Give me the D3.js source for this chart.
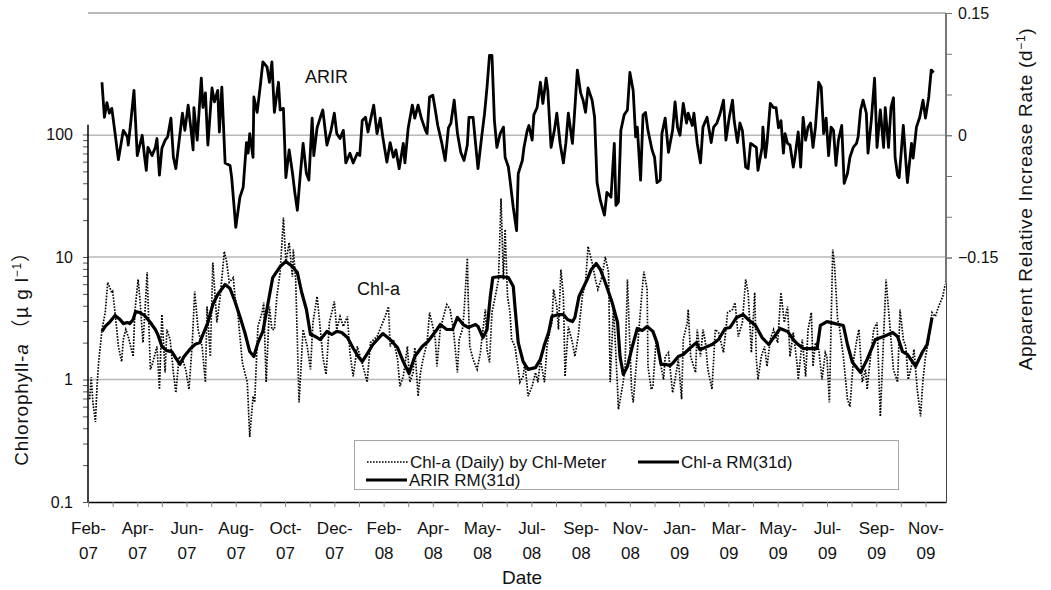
<!DOCTYPE html>
<html>
<head>
<meta charset="utf-8">
<script src="https://cdn.jsdelivr.net/npm/d3@7"></script>
<style>
  html, body { margin: 0; padding: 0; background: #fff; }
  svg { display: block; }
  text { font-family: "Liberation Sans", Arial, sans-serif; fill: #111; }
</style>
</head>
<body>
<svg id="chart" width="1051" height="590"></svg>
<script>
// Date axis labels (one every 60 days of record, minor tick every 30 days)
const dateLabels = ["Feb-07","Apr-07","Jun-07","Aug-07","Oct-07","Dec-07","Feb-08","Apr-08","May-08",
                    "Jul-08","Sep-08","Nov-08","Jan-09","Mar-09","May-09","Jul-09","Sep-09","Nov-09"];
const labelEveryDays = 60;
const tickEveryDays = 30;
const recordDays = 1045;

// Left (log) axis: chlorophyll-a, µg/l
const chlMajorTicks = [0.1, 1, 10, 100];
const chlAxisMax = 120;
// Right axis: apparent relative increase rate, 1/d
const arirLabelTicks = [0.15, 0, -0.15];
const arirMinorTicks = [0.15, 0.1, 0.05, 0, -0.05, -0.1, -0.15];
const arirAxisMin = -0.182;

// Chl-a daily values from the Chl-meter: [day of record, µg/l]
const chlDaily = [[2,0.69],[4,1.04],[6,0.65],[9,0.45],[11,0.88],[13,1.38],[17,2.56],[21,3.52],[24,6.2],[29,5.13],[30,5.23],[33,3.52],[37,1.86],[41,1.40],[43,2.12],[46,2.56],[49,2.24],[52,1.86],[55,1.54],[57,3.52],[61,6.55],[63,4.76],[67,2.00],[69,3.27],[72,7.5],[76,1.21],[79,1.38],[84,1.86],[87,0.83],[90,3.39],[94,1.14],[96,2.56],[100,2.12],[104,1.14],[107,0.78],[111,1.54],[115,1.46],[119,1.21],[123,0.83],[127,2.00],[130,5.23],[134,2.56],[139,1.86],[143,0.95],[145,3.94],[149,1.54],[152,9.0],[157,2.92],[161,4.76],[166,11.1],[169,9.0],[172,6.2],[177,6.8],[179,4.76],[182,3.73],[188,1.38],[190,1.21],[194,0.95],[197,0.34],[201,0.73],[203,0.65],[207,2.71],[212,3.52],[214,4.25],[217,0.95],[221,3.94],[224,2.56],[227,2.56],[230,4.76],[234,7.5],[238,21.0],[241,9.0],[245,13.1],[249,6.9],[250,11.5],[253,6.55],[257,0.65],[262,2.56],[267,1.86],[271,1.21],[274,2.92],[279,4.76],[283,2.56],[286,1.54],[290,1.10],[294,2.92],[300,4.33],[303,2.56],[307,3.27],[311,2.71],[316,3.27],[319,1.66],[323,1.06],[328,1.86],[335,1.28],[340,0.95],[344,2.00],[352,2.24],[362,3.27],[366,3.94],[368,1.86],[372,2.12],[377,1.46],[380,0.88],[384,1.06],[389,1.86],[392,0.95],[396,1.14],[398,1.82],[402,0.73],[405,1.14],[408,1.46],[413,2.00],[416,3.52],[420,2.71],[423,2.12],[425,1.28],[429,2.56],[433,3.27],[437,4.09],[441,3.73],[445,2.56],[450,1.14],[452,2.12],[456,2.56],[458,3.52],[462,9.8],[463,4.76],[465,1.86],[469,1.46],[474,1.21],[478,1.66],[480,2.24],[484,3.73],[486,1.76],[489,1.38],[492,3.52],[496,4.76],[500,6.55],[503,30.0],[506,6.55],[508,16.8],[511,4.76],[514,3.52],[516,2.12],[520,1.86],[524,1.21],[526,0.95],[530,1.06],[532,1.38],[536,0.73],[541,0.88],[545,1.14],[548,0.95],[551,1.46],[556,0.95],[559,1.86],[562,2.42],[565,2.92],[567,5.43],[571,3.94],[573,2.56],[576,7.9],[579,4.76],[581,1.06],[585,2.71],[590,2.00],[593,1.54],[597,2.24],[602,4.76],[606,6.2],[609,12.2],[614,9.0],[618,6.55],[621,5.43],[626,6.9],[630,10.0],[634,7.5],[636,0.95],[640,3.94],[645,0.83],[646,0.57],[651,0.88],[654,1.21],[657,6.55],[662,0.83],[664,0.65],[669,1.66],[671,2.56],[675,5.43],[677,7.6],[681,5.43],[682,1.28],[686,0.83],[688,0.88],[692,2.12],[697,1.38],[701,1.0],[703,1.54],[707,1.66],[712,0.78],[715,1.0],[719,1.46],[723,0.69],[725,2.12],[730,2.92],[731,3.73],[734,1.54],[740,1.14],[742,2.56],[746,1.54],[749,2.56],[752,2.00],[755,1.21],[760,0.83],[764,2.56],[768,2.42],[774,1.66],[779,3.52],[785,3.73],[788,4.25],[792,2.24],[797,2.92],[801,6.55],[804,5.13],[808,1.66],[812,5.13],[814,1.46],[816,1.0],[820,1.54],[824,1.86],[827,1.28],[831,2.12],[835,2.56],[840,2.00],[844,5.13],[848,2.92],[852,3.94],[855,1.54],[859,2.42],[864,1.28],[865,1.0],[870,2.12],[874,1.06],[877,2.56],[881,3.52],[883,1.28],[886,2.00],[890,1.76],[894,1.0],[898,1.66],[900,1.54],[903,0.65],[907,11.5],[909,9.0],[913,3.09],[915,2.71],[920,1.54],[925,0.69],[928,0.60],[932,1.38],[937,2.24],[939,2.56],[943,0.95],[947,1.21],[949,0.83],[953,1.54],[957,2.56],[961,2.92],[965,0.50],[969,2.24],[972,6.55],[975,3.73],[977,2.56],[981,1.21],[986,0.95],[989,3.73],[993,2.12],[996,1.86],[999,1.0],[1004,1.38],[1006,1.76],[1010,0.83],[1014,0.50],[1017,1.0],[1020,1.54],[1024,2.12],[1028,3.52],[1032,3.27],[1036,3.94],[1041,4.76],[1044,5.97]];

// Chl-a 31-day running mean: [day of record, µg/l]
const chlRM31 = [[17,2.47],[21,2.71],[27,2.97],[33,3.33],[39,3.09],[43,2.86],[48,2.92],[51,2.86],[55,3.09],[58,3.59],[63,3.52],[69,3.33],[76,2.92],[82,2.56],[85,2.33],[90,1.86],[96,1.72],[102,1.69],[108,1.46],[112,1.33],[117,1.54],[124,1.76],[130,1.93],[136,2.00],[141,2.42],[146,2.92],[152,4.09],[158,4.94],[167,5.97],[173,5.53],[179,4.33],[185,3.27],[191,2.42],[197,1.69],[202,1.54],[207,2.00],[213,2.47],[219,4.09],[225,6.80],[234,8.36],[241,9.19],[249,8.36],[255,7.47],[260,5.23],[266,3.73],[271,2.33],[277,2.24],[283,2.12],[291,2.47],[297,2.33],[303,2.47],[309,2.42],[316,2.20],[323,1.80],[330,1.51],[334,1.40],[341,1.66],[347,1.93],[359,2.37],[368,2.12],[377,1.82],[384,1.40],[391,1.12],[398,1.54],[407,1.86],[414,2.04],[425,2.56],[429,2.81],[437,2.56],[444,2.56],[450,3.21],[457,2.81],[463,2.66],[472,2.81],[475,2.71],[481,2.20],[486,2.56],[490,4.76],[493,6.80],[502,6.93],[512,6.80],[518,5.74],[520,3.94],[524,2.00],[530,1.40],[536,1.21],[545,1.25],[551,1.46],[556,1.93],[561,2.42],[565,3.27],[573,3.39],[579,3.39],[584,3.09],[590,2.97],[593,3.21],[598,4.76],[608,6.55],[613,7.91],[619,8.85],[624,7.91],[630,6.19],[638,4.33],[645,2.92],[648,1.54],[652,1.10],[657,1.28],[663,1.86],[669,2.61],[675,2.51],[681,2.71],[688,2.47],[693,2.00],[698,1.33],[703,1.33],[709,1.30],[713,1.38],[719,1.54],[725,1.60],[733,1.80],[741,2.00],[745,1.76],[751,1.82],[760,1.93],[768,2.12],[776,2.61],[782,2.66],[790,3.21],[798,3.39],[804,3.09],[813,2.76],[821,2.20],[829,1.93],[835,2.20],[843,2.61],[852,2.47],[859,2.12],[865,1.93],[871,1.79],[880,1.79],[888,1.79],[892,2.76],[900,2.97],[910,2.86],[920,2.76],[925,1.93],[931,1.38],[941,1.14],[949,1.46],[959,2.12],[969,2.24],[980,2.42],[986,2.24],[992,1.69],[998,1.60],[1008,1.28],[1016,1.66],[1022,1.93],[1028,3.21]];

// Apparent relative increase rate, 31-day running mean: [day of record, 1/d]
const arirRM31 = [[17,0.065],[20,0.022],[23,0.040],[26,0.027],[29,0.033],[33,0.002],[37,-0.030],[43,0.006],[48,-0.002],[49,-0.012],[52,0.015],[56,0.055],[60,-0.025],[66,0],[69,-0.027],[71,-0.043],[73,-0.015],[78,-0.025],[82,-0.015],[84,-0.004],[87,-0.049],[90,-0.016],[94,-0.006],[97,-0.002],[101,0.021],[104,-0.027],[107,-0.041],[115,0.027],[118,0.006],[122,0.037],[126,0.002],[128,-0.018],[129,0.034],[133,-0.006],[134,0.009],[138,0.070],[140,0.034],[143,0.052],[146,-0.012],[151,0.058],[154,0.041],[158,0.055],[160,0.004],[163,0.059],[167,-0.034],[173,-0.037],[175,-0.052],[180,-0.113],[185,-0.076],[189,-0.064],[193,-0.009],[195,-0.022],[197,0.002],[201,-0.027],[202,0.047],[206,0.028],[210,0.062],[213,0.090],[218,0.084],[221,0.065],[224,0.090],[227,0.028],[232,0.065],[234,0.031],[238,0.033],[241,-0.052],[245,-0.018],[249,-0.046],[252,-0.071],[255,-0.092],[258,-0.055],[262,-0.010],[266,-0.047],[269,-0.055],[273,0.021],[275,-0.025],[279,0.009],[283,0.022],[286,0.031],[291,-0.012],[296,0.006],[300,0.027],[303,0.002],[307,-0.004],[311,0.006],[314,-0.034],[319,-0.022],[323,-0.034],[328,-0.022],[331,-0.025],[334,0.018],[338,0.022],[341,0.004],[346,0.028],[348,0.037],[352,0.002],[356,0.021],[359,-0.002],[364,-0.033],[368,-0.009],[372,-0.027],[375,-0.018],[379,-0.041],[384,-0.010],[386,-0.034],[390,0.009],[395,0.037],[398,0.021],[402,0.037],[406,0.021],[411,0.006],[413,0.002],[416,0.047],[420,0.049],[423,0.031],[426,0.012],[431,-0.010],[435,-0.031],[439,0.009],[442,0.015],[446,0.043],[450,0.002],[454,-0.021],[458,-0.031],[462,-0.012],[464,0.022],[469,0.022],[472,-0.010],[475,-0.041],[479,-0.006],[483,0.027],[486,0.059],[489,0.098],[492,0.098],[495,0.018],[498,-0.015],[502,0.002],[506,0.010],[508,-0.027],[512,-0.039],[514,-0.055],[518,-0.089],[522,-0.117],[524,-0.047],[529,-0.031],[531,-0.015],[535,0.006],[537,0.012],[541,-0.006],[543,0.025],[547,0.034],[551,0.065],[554,0.039],[558,0.070],[560,0.055],[564,-0.015],[568,0.006],[571,0.027],[575,-0.010],[579,-0.034],[582,-0.010],[585,0.027],[590,-0.010],[592,0.018],[596,0.080],[600,0.052],[603,0.043],[606,0.028],[609,0.058],[614,0.043],[617,0.022],[620,-0.058],[624,-0.080],[629,-0.098],[632,-0.070],[637,-0.076],[641,-0.010],[643,-0.086],[646,-0.082],[649,0.006],[653,0.025],[657,0.031],[660,0.077],[664,0.055],[667,-0.002],[669,0.010],[673,-0.055],[676,0.025],[679,0.028],[682,0.006],[687,-0.018],[690,-0.027],[693,-0.058],[697,-0.055],[699,0.002],[703,0.021],[707,-0.021],[712,0.006],[715,0.041],[718,0.010],[721,0],[725,0.039],[729,0.015],[731,0.027],[736,0.012],[738,0.027],[742,-0.010],[746,-0.034],[749,0.010],[754,0.022],[759,-0.009],[762,0.010],[766,0.015],[770,0.027],[774,0.043],[777,-0.006],[781,0.022],[785,0.043],[787,0.018],[791,-0.009],[794,0.015],[797,0.006],[801,-0.039],[804,-0.041],[807,-0.010],[810,-0.012],[814,-0.015],[816,-0.043],[821,-0.015],[822,0.010],[825,-0.027],[827,-0.010],[831,0.039],[835,0.034],[838,0.034],[841,0.009],[844,0.018],[847,-0.022],[849,0.002],[852,-0.010],[855,-0.012],[859,-0.039],[861,-0.027],[865,0.004],[868,-0.039],[871,0.022],[874,-0.006],[877,0.010],[880,0.015],[883,-0.015],[886,0.010],[890,0.065],[893,0.059],[896,0.002],[899,0.021],[902,-0.025],[905,0.010],[908,0.006],[911,-0.037],[914,-0.006],[918,0.012],[921,-0.059],[925,-0.047],[928,-0.027],[932,-0.015],[936,-0.010],[938,-0.002],[941,0.031],[944,0.043],[948,0.027],[950,-0.022],[954,0.018],[958,0.070],[961,-0.015],[965,0.031],[969,-0.015],[971,0.034],[975,-0.015],[978,0.034],[981,0.046],[983,-0.027],[986,-0.049],[988,-0.052],[993,0.012],[996,-0.031],[998,-0.058],[1003,-0.010],[1005,-0.028],[1009,0.010],[1013,0.022],[1017,0.043],[1020,0.021],[1024,0.047],[1027,0.080],[1030,0.077]];

const svg = d3.select("#chart");
const plot = { left: 88, right: 946, top: 13, bottom: 502 };

const x = d3.scaleLinear().domain([0, recordDays]).range([plot.left, plot.right]);
const yChl = d3.scaleLog().domain([0.1, 1000]).range([plot.bottom, 12]);
const yArir = d3.scaleLinear().domain([-0.45, 0.15]).range([plot.bottom, plot.top]);

// Gridlines
const grid = svg.append("g");
const gridLevels = [
  { y: yArir(0.15), c: "#a0a0a0" },
  { y: yArir(0), c: "#b8b8b8" },
  { y: yChl(10), c: "#b8b8b8" },
  { y: yChl(1), c: "#b8b8b8" }
];
grid.selectAll("line").data(gridLevels).join("line")
  .attr("x1", plot.left).attr("x2", plot.right)
  .attr("y1", d => d.y).attr("y2", d => d.y)
  .attr("stroke", d => d.c).attr("stroke-width", 1.3);

// Right border of the plot area below the rate axis
svg.append("line")
  .attr("x1", plot.right + 0.5).attr("x2", plot.right + 0.5)
  .attr("y1", yChl(chlAxisMax)).attr("y2", plot.bottom)
  .attr("stroke", "#444").attr("stroke-width", 1);

// Series
const lineChl = d3.line().x(d => x(d[0])).y(d => yChl(d[1]));
const lineArir = d3.line().x(d => x(d[0])).y(d => yArir(d[1]));

svg.append("path").datum(chlDaily)
  .attr("d", lineChl).attr("fill", "none")
  .attr("stroke", "#000").attr("stroke-width", 1.7)
  .attr("stroke-dasharray", "1.6,1.4");

svg.append("path").datum(chlRM31)
  .attr("d", lineChl).attr("fill", "none")
  .attr("stroke", "#000").attr("stroke-width", 3.2)
  .attr("stroke-linejoin", "round");

svg.append("path").datum(arirRM31)
  .attr("d", lineArir).attr("fill", "none")
  .attr("stroke", "#000").attr("stroke-width", 2.8)
  .attr("stroke-linejoin", "round");

// Bottom (date) axis
const xTickValues = d3.range(0, dateLabels.length * labelEveryDays - labelEveryDays + 1, tickEveryDays);
const xAxis = svg.append("g")
  .attr("transform", `translate(0,${plot.bottom})`)
  .call(d3.axisBottom(x).tickValues(xTickValues).tickSize(5).tickSizeOuter(0)
        .tickFormat(d => d % labelEveryDays === 0 ? dateLabels[d / labelEveryDays] : ""));
xAxis.select(".domain").attr("stroke", "#000").attr("stroke-width", 1.5);
xAxis.selectAll(".tick line").attr("stroke", "#888");
xAxis.selectAll(".tick text").each(function() {
  const t = d3.select(this);
  const label = t.text();
  t.text(null).attr("font-size", 17).attr("font-family", "Liberation Sans, Arial, sans-serif")
    .attr("fill", "#111").attr("y", 0).attr("dy", null);
  if (!label) return;
  const parts = label.split("-");
  t.append("tspan").attr("x", 0).attr("y", 32).text(parts[0] + "-");
  t.append("tspan").attr("x", 0).attr("y", 57).text(parts[1]);
});

// Left (log) axis
const leftAxis = svg.append("g").attr("transform", `translate(${plot.left},0)`);
const chlMinorTicks = [];
[0.1, 1, 10].forEach(base => { for (let k = 2; k <= 9; k++) chlMinorTicks.push(+(base * k).toPrecision(3)); });
leftAxis.append("g")
  .call(d3.axisLeft(yChl).tickValues(chlMinorTicks).tickSize(5).tickFormat(""))
  .call(g => g.select(".domain").remove());
leftAxis.append("g")
  .call(d3.axisLeft(yChl).tickValues(chlMajorTicks).tickSize(5).tickPadding(10)
        .tickFormat(d => d3.format("~g")(d)))
  .call(g => g.select(".domain").remove());
leftAxis.append("line")
  .attr("x1", 0).attr("x2", 0)
  .attr("y1", yChl(chlAxisMax)).attr("y2", plot.bottom)
  .attr("stroke", "#000").attr("stroke-width", 1.5);
leftAxis.selectAll(".tick line").attr("stroke", "#555");
leftAxis.selectAll(".tick text").attr("font-size", 16)
  .attr("font-family", "Liberation Sans, Arial, sans-serif").attr("fill", "#111");

// Right (rate) axis
const rightAxis = svg.append("g").attr("transform", `translate(${plot.right},0)`);
rightAxis.append("g")
  .call(d3.axisRight(yArir).tickValues(arirMinorTicks).tickSize(6).tickFormat(""))
  .call(g => g.select(".domain").remove());
rightAxis.append("g")
  .call(d3.axisRight(yArir).tickValues(arirLabelTicks).tickSize(6).tickPadding(6)
        .tickFormat(d => d3.format("~g")(d)))
  .call(g => g.select(".domain").remove());
rightAxis.append("line")
  .attr("x1", 0).attr("x2", 0)
  .attr("y1", yArir(0.15)).attr("y2", yArir(arirAxisMin))
  .attr("stroke", "#777").attr("stroke-width", 2);
rightAxis.selectAll(".tick line").attr("stroke", "#777");
rightAxis.selectAll(".tick text").attr("font-size", 16)
  .attr("font-family", "Liberation Sans, Arial, sans-serif").attr("fill", "#111");

// Axis titles
svg.append("text")
  .attr("x", 522).attr("y", 584)
  .attr("text-anchor", "middle").attr("font-size", 19)
  .text("Date");

const leftTitle = svg.append("text")
  .attr("transform", "translate(28,354) rotate(-90)")
  .attr("text-anchor", "middle").attr("font-size", 19).attr("letter-spacing", 0.8);
leftTitle.append("tspan").text("Chlorophyll-");
leftTitle.append("tspan").attr("font-style", "italic").text("a");
leftTitle.append("tspan").attr("font-family", "Noto Sans CJK JP").text(" （μ");
leftTitle.append("tspan").text(" g l");
leftTitle.append("tspan").attr("font-size", 12).attr("dy", -7).text("−1");
leftTitle.append("tspan").attr("font-family", "Noto Sans CJK JP").attr("dy", 7).text("）");

const rightTitle = svg.append("text")
  .attr("transform", "translate(1032,199) rotate(-90)")
  .attr("text-anchor", "middle").attr("font-size", 19).attr("letter-spacing", 0.7);
rightTitle.append("tspan").text("Apparent Relative Increase Rate (d");
rightTitle.append("tspan").attr("font-size", 12).attr("dy", -7).text("−1");
rightTitle.append("tspan").attr("dy", 7).text(")");

// In-plot series labels
svg.append("text").attr("x", 305).attr("y", 83)
  .attr("font-family", "Lato, 'Open Sans', sans-serif").attr("font-size", 18).text("ARIR");
svg.append("text").attr("x", 357).attr("y", 295)
  .attr("font-family", "Lato, 'Open Sans', sans-serif").attr("font-size", 18).text("Chl-a");

// Legend
const legend = svg.append("g");
legend.append("rect")
  .attr("x", 354.5).attr("y", 440.5).attr("width", 544).attr("height", 49)
  .attr("fill", "#fff").attr("stroke", "#a6a6a6").attr("stroke-width", 1);
const legendItems = [
  { label: "Chl-a (Daily) by Chl-Meter", dash: "1.6,1.4", w: 1.7, x: 367, y: 462 },
  { label: "Chl-a RM(31d)", dash: null, w: 3.2, x: 638, y: 462 },
  { label: "ARIR RM(31d)", dash: null, w: 2.8, x: 366, y: 480 }
];
const li = legend.selectAll("g.item").data(legendItems).join("g").attr("class", "item");
li.append("line")
  .attr("x1", d => d.x).attr("x2", d => d.x + 41)
  .attr("y1", d => d.y).attr("y2", d => d.y)
  .attr("stroke", "#000").attr("stroke-width", d => d.w)
  .attr("stroke-dasharray", d => d.dash);
li.append("text")
  .attr("x", d => d.x + 43).attr("y", d => d.y + 6)
  .attr("font-size", 17).text(d => d.label);
</script>
</body>
</html>
